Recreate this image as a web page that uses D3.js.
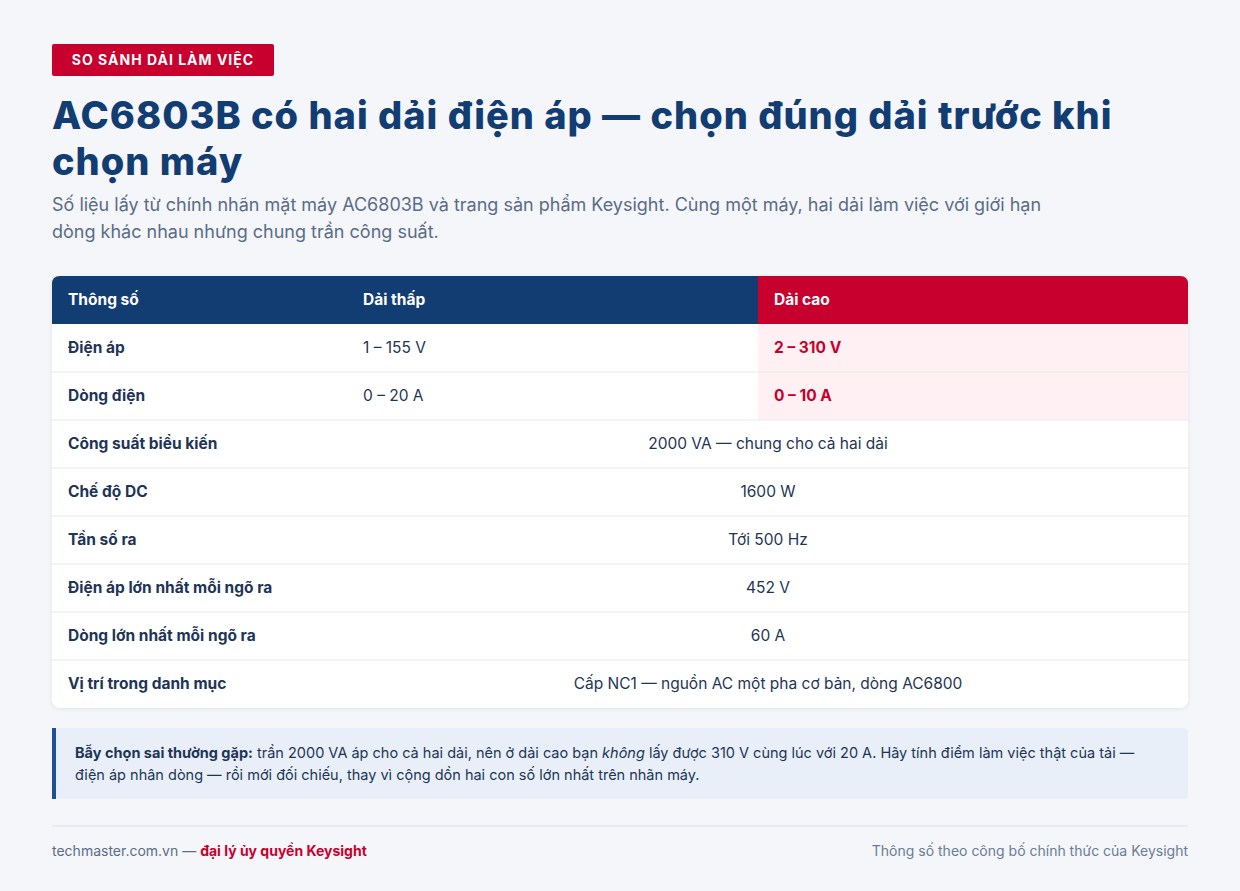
<!DOCTYPE html><html><head><meta charset="utf-8">
<script src="https://cdn.jsdelivr.net/npm/d3@7"></script>
<style>body{margin:0;background:#f4f6fa;font-family:Inter,"Noto Sans",sans-serif}</style></head><body>
<svg id="c" width="1240" height="891"></svg>
<script>
const headers=["Thông số","Dải thấp","Dải cao"];
const splitRows=[["Điện áp","1 – 155 V","2 – 310 V"],["Dòng điện","0 – 20 A","0 – 10 A"]];
const mergedRows=[["Công suất biểu kiến","2000 VA — chung cho cả hai dải"],["Chế độ DC","1600 W"],["Tần số ra","Tới 500 Hz"],["Điện áp lớn nhất mỗi ngõ ra","452 V"],["Dòng lớn nhất mỗi ngõ ra","60 A"],["Vị trí trong danh mục","Cấp NC1 — nguồn AC một pha cơ bản, dòng AC6800"]];
const navy="#123d73",red="#c8002e",txt="#1e3557";
const svg=d3.select("#c");
svg.append("rect").attr("width",1240).attr("height",891).attr("fill","#f4f6fa");
svg.append("rect").attr("x",52).attr("y",44).attr("width",222).attr("height",32).attr("rx",2).attr("fill",red);
svg.append("text").attr("x",163).attr("y",65).attr("text-anchor","middle").attr("fill","#fff").attr("font-size",14).attr("font-weight",700).attr("letter-spacing",1).text("SO SÁNH DẢI LÀM VIỆC");
["AC6803B có hai dải điện áp — chọn đúng dải trước khi","chọn máy"].forEach((t,i)=>svg.append("text").attr("x",52).attr("y",129+i*46).attr("fill",navy).attr("font-size",38).attr("font-weight",800).attr("letter-spacing",1).text(t));
["Số liệu lấy từ chính nhãn mặt máy AC6803B và trang sản phẩm Keysight. Cùng một máy, hai dải làm việc với giới hạn","dòng khác nhau nhưng chung trần công suất."].forEach((t,i)=>svg.append("text").attr("x",52).attr("y",211+i*27).attr("fill","#5b6c87").attr("font-size",18).text(t));
const x0=52,x1=1188,y0=276,rh=48,hh=48;
const nRows=splitRows.length+mergedRows.length;
const y=d3.scaleLinear().domain([0,nRows]).range([y0+hh,y0+hh+rh*nRows]);
const cols=[68,363,774], split=758, mid=348;
svg.append("rect").attr("x",x0).attr("y",y0).attr("width",x1-x0).attr("height",hh+rh*nRows).attr("rx",8).attr("fill","#fff").attr("filter","drop-shadow(0 1px 2px rgba(0,0,0,0.08))");
svg.append("path").attr("d",`M${x0},${y0+hh}V${y0+8}Q${x0},${y0} ${x0+8},${y0}H${split}V${y0+hh}Z`).attr("fill",navy);
svg.append("path").attr("d",`M${split},${y0+hh}V${y0}H${x1-8}Q${x1},${y0} ${x1},${y0+8}V${y0+hh}Z`).attr("fill",red);
headers.forEach((h,i)=>svg.append("text").attr("x",cols[i]).attr("y",y0+29).attr("fill","#fff").attr("font-size",15.5).attr("font-weight",700).text(h));
splitRows.forEach((r,i)=>{
 svg.append("rect").attr("x",split).attr("y",y(i)).attr("width",x1-split).attr("height",rh).attr("fill","#fff0f3");
 r.forEach((v,j)=>svg.append("text").attr("x",cols[j]).attr("y",y(i)+29).attr("fill",j==2?red:txt).attr("font-size",15.5).attr("font-weight",j==1?400:700).text(v));
});
mergedRows.forEach((r,k)=>{const i=k+splitRows.length;
 svg.append("text").attr("x",cols[0]).attr("y",y(i)+29).attr("fill",txt).attr("font-size",15.5).attr("font-weight",700).text(r[0]);
 svg.append("text").attr("x",(mid+x1)/2).attr("y",y(i)+29).attr("text-anchor","middle").attr("fill",txt).attr("font-size",15.5).text(r[1]);
});
d3.range(1,nRows).forEach(i=>svg.append("line").attr("x1",x0).attr("x2",x1).attr("y1",y(i)).attr("y2",y(i)).attr("stroke","#e6eaf0"));
svg.append("rect").attr("x",52).attr("y",728).attr("width",1136).attr("height",71).attr("rx",4).attr("fill","#e8eff8");
svg.append("rect").attr("x",52).attr("y",728).attr("width",4).attr("height",71).attr("fill","#1f4f95");
const t1=svg.append("text").attr("x",75).attr("y",758).attr("fill",txt).attr("font-size",14.5);
t1.append("tspan").attr("font-weight",700).text("Bẫy chọn sai thường gặp:");
t1.append("tspan").text(" trần 2000 VA áp cho cả hai dải, nên ở dải cao bạn ");
t1.append("tspan").attr("font-style","italic").text("không");
t1.append("tspan").text(" lấy được 310 V cùng lúc với 20 A. Hãy tính điểm làm việc thật của tải —");
svg.append("text").attr("x",75).attr("y",780).attr("fill",txt).attr("font-size",14.5).text("điện áp nhân dòng — rồi mới đối chiếu, thay vì cộng dồn hai con số lớn nhất trên nhãn máy.");
svg.append("line").attr("x1",52).attr("x2",1188).attr("y1",826).attr("y2",826).attr("stroke","#d9dee6");
const f=svg.append("text").attr("x",52).attr("y",856).attr("font-size",14).attr("fill","#5b6c87");
f.append("tspan").text("techmaster.com.vn — ");
f.append("tspan").attr("fill",red).attr("font-weight",700).text("đại lý ủy quyền Keysight");
svg.append("text").attr("x",1188).attr("y",856).attr("text-anchor","end").attr("font-size",14).attr("fill","#6b7c96").text("Thông số theo công bố chính thức của Keysight");
</script></body></html>
